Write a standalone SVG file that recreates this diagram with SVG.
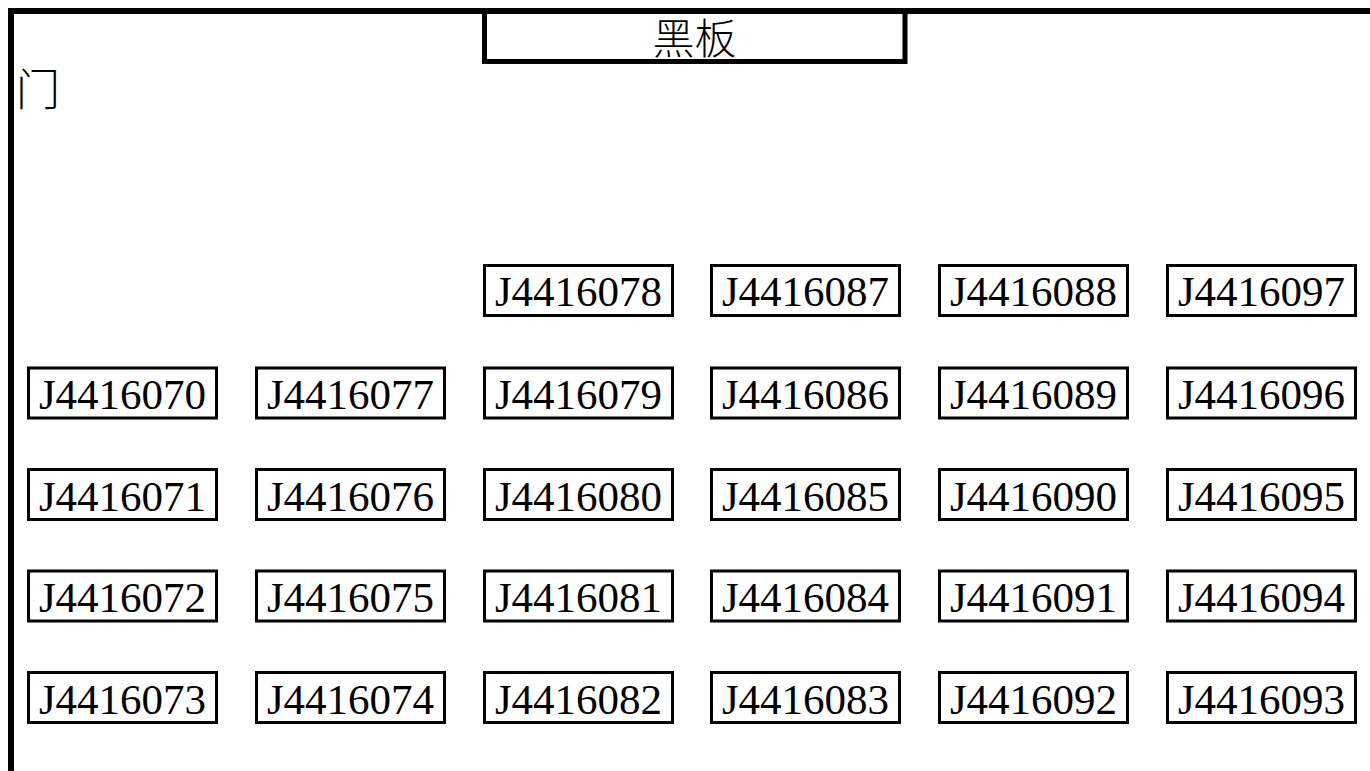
<svg xmlns="http://www.w3.org/2000/svg" width="1370" height="771" viewBox="0 0 1370 771">
<style>
.seat rect{fill:#fff;stroke:#000;stroke-width:3}
.seat text{font-family:"Liberation Serif","Times New Roman",serif;font-size:43px;fill:#000;text-anchor:middle}
.cjk{font-family:"Noto Sans CJK SC",sans-serif;font-size:42px;fill:#000;font-weight:300}
.wall{fill:none;stroke:#000;stroke-width:6}
</style>
<rect width="1370" height="771" fill="#fff"/>
<g id="walls">
<path class="wall" d="M11,771 V11 H1370"/>
</g>
<g id="blackboard">
<path d="M484.5,11 V61.5 H905 V11" fill="none" stroke="#000" stroke-width="5"/>
<text class="cjk" x="694.5" y="54" text-anchor="middle">黑板</text>
</g>
<g id="door">
<text class="cjk" x="16" y="106" style="font-size:44px">门</text>
</g>
<g id="connectors"></g>
<g id="seat-J4416078" class="seat"><rect x="484.5" y="265.5" width="188" height="50"/><text x="578.5" y="306">J4416078</text></g>
<g id="seat-J4416087" class="seat"><rect x="711.5" y="265.5" width="188" height="50"/><text x="805.5" y="306">J4416087</text></g>
<g id="seat-J4416088" class="seat"><rect x="939.5" y="265.5" width="188" height="50"/><text x="1033.5" y="306">J4416088</text></g>
<g id="seat-J4416097" class="seat"><rect x="1167.5" y="265.5" width="188" height="50"/><text x="1261.5" y="306">J4416097</text></g>

<g id="seat-J4416070" class="seat"><rect x="28.5" y="368" width="188" height="50"/><text x="122.5" y="409">J4416070</text></g>
<g id="seat-J4416077" class="seat"><rect x="256.5" y="368" width="188" height="50"/><text x="350.5" y="409">J4416077</text></g>
<g id="seat-J4416079" class="seat"><rect x="484.5" y="368" width="188" height="50"/><text x="578.5" y="409">J4416079</text></g>
<g id="seat-J4416086" class="seat"><rect x="711.5" y="368" width="188" height="50"/><text x="805.5" y="409">J4416086</text></g>
<g id="seat-J4416089" class="seat"><rect x="939.5" y="368" width="188" height="50"/><text x="1033.5" y="409">J4416089</text></g>
<g id="seat-J4416096" class="seat"><rect x="1167.5" y="368" width="188" height="50"/><text x="1261.5" y="409">J4416096</text></g>

<g id="seat-J4416071" class="seat"><rect x="28.5" y="469.5" width="188" height="50"/><text x="122.5" y="510.5">J4416071</text></g>
<g id="seat-J4416076" class="seat"><rect x="256.5" y="469.5" width="188" height="50"/><text x="350.5" y="510.5">J4416076</text></g>
<g id="seat-J4416080" class="seat"><rect x="484.5" y="469.5" width="188" height="50"/><text x="578.5" y="510.5">J4416080</text></g>
<g id="seat-J4416085" class="seat"><rect x="711.5" y="469.5" width="188" height="50"/><text x="805.5" y="510.5">J4416085</text></g>
<g id="seat-J4416090" class="seat"><rect x="939.5" y="469.5" width="188" height="50"/><text x="1033.5" y="510.5">J4416090</text></g>
<g id="seat-J4416095" class="seat"><rect x="1167.5" y="469.5" width="188" height="50"/><text x="1261.5" y="510.5">J4416095</text></g>

<g id="seat-J4416072" class="seat"><rect x="28.5" y="571" width="188" height="50"/><text x="122.5" y="612">J4416072</text></g>
<g id="seat-J4416075" class="seat"><rect x="256.5" y="571" width="188" height="50"/><text x="350.5" y="612">J4416075</text></g>
<g id="seat-J4416081" class="seat"><rect x="484.5" y="571" width="188" height="50"/><text x="578.5" y="612">J4416081</text></g>
<g id="seat-J4416084" class="seat"><rect x="711.5" y="571" width="188" height="50"/><text x="805.5" y="612">J4416084</text></g>
<g id="seat-J4416091" class="seat"><rect x="939.5" y="571" width="188" height="50"/><text x="1033.5" y="612">J4416091</text></g>
<g id="seat-J4416094" class="seat"><rect x="1167.5" y="571" width="188" height="50"/><text x="1261.5" y="612">J4416094</text></g>

<g id="seat-J4416073" class="seat"><rect x="28.5" y="672.5" width="188" height="50"/><text x="122.5" y="713.5">J4416073</text></g>
<g id="seat-J4416074" class="seat"><rect x="256.5" y="672.5" width="188" height="50"/><text x="350.5" y="713.5">J4416074</text></g>
<g id="seat-J4416082" class="seat"><rect x="484.5" y="672.5" width="188" height="50"/><text x="578.5" y="713.5">J4416082</text></g>
<g id="seat-J4416083" class="seat"><rect x="711.5" y="672.5" width="188" height="50"/><text x="805.5" y="713.5">J4416083</text></g>
<g id="seat-J4416092" class="seat"><rect x="939.5" y="672.5" width="188" height="50"/><text x="1033.5" y="713.5">J4416092</text></g>
<g id="seat-J4416093" class="seat"><rect x="1167.5" y="672.5" width="188" height="50"/><text x="1261.5" y="713.5">J4416093</text></g>
</svg>
